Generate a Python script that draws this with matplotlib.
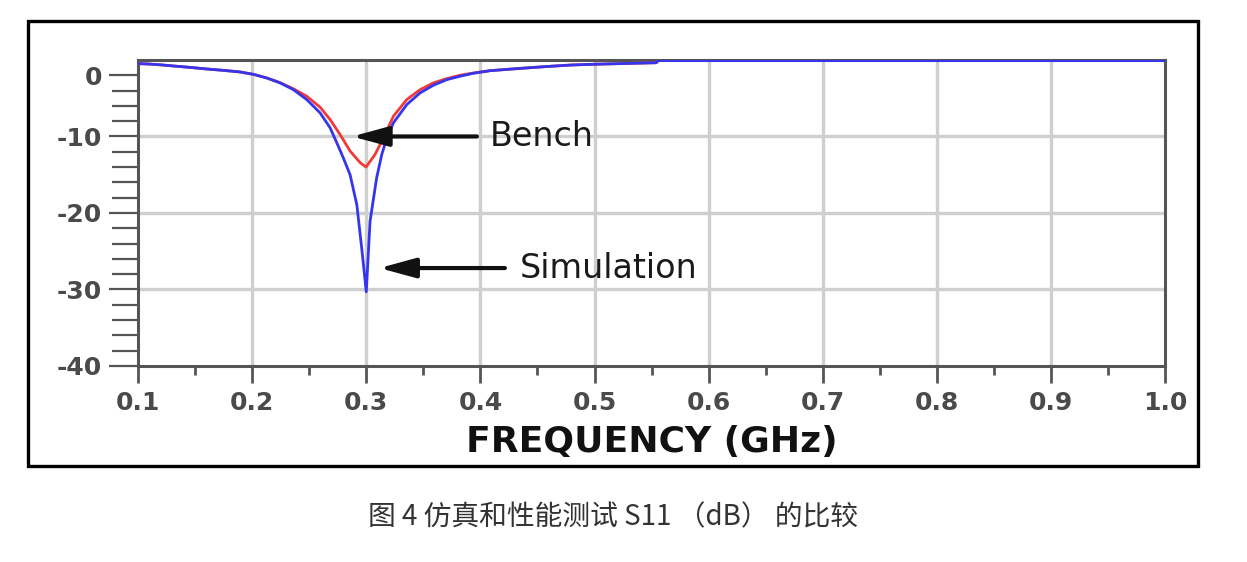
import numpy as np
import matplotlib
matplotlib.use("Agg")
import matplotlib.pyplot as plt
from matplotlib.patches import Rectangle

# ---------------- data ----------------
freq_sim = [0.100, 0.108, 0.120, 0.132, 0.146, 0.160, 0.175, 0.1894, 0.2011, 0.2128,
            0.2245, 0.2361, 0.2478, 0.2595, 0.2683, 0.2741, 0.2799, 0.2858, 0.2917, 0.296,
            0.300, 0.3033, 0.3091, 0.3136, 0.318, 0.3238, 0.3355, 0.3472, 0.3588, 0.3705,
            0.3822, 0.3939, 0.4085, 0.436, 0.460, 0.480, 0.500, 0.554, 0.556, 1.000]
s11_sim = [1.9, 1.85, 1.7, 1.5, 1.28, 1.03, 0.8, 0.54, 0.15, -0.44,
           -1.25, -2.35, -3.97, -6.14, -8.58, -10.8, -12.8, -15.0, -18.9, -24.6,
           -30.3, -21.1, -15.4, -12.35, -10.2, -7.77, -4.79, -2.88, -1.63, -0.72,
           -0.16, 0.33, 0.75, 1.14, 1.45, 1.68, 1.8, 2.05, 2.4, 2.4]

freq_bench = [0.100, 0.108, 0.120, 0.132, 0.146, 0.160, 0.175, 0.1894, 0.2011, 0.2128,
              0.2245, 0.2361, 0.2478, 0.2595, 0.2683, 0.2770, 0.2858, 0.2945, 0.2998, 0.3077,
              0.315, 0.3238, 0.3355, 0.3472, 0.3588, 0.3705, 0.3822, 0.3939, 0.4085, 0.436,
              0.460, 0.480, 0.500, 0.554, 0.556, 1.000]
s11_bench = [1.9, 1.85, 1.7, 1.5, 1.28, 1.03, 0.8, 0.54, 0.15, -0.44,
             -1.2, -2.2, -3.42, -5.21, -7.23, -9.67, -11.9, -13.4, -14.0, -12.35,
             -10.2, -6.68, -3.97, -2.35, -1.25, -0.55, 0.0, 0.37, 0.75, 1.14,
             1.45, 1.68, 1.8, 2.05, 2.4, 2.4]

x_ticks = [0.1, 0.2, 0.3, 0.4, 0.5, 0.6, 0.7, 0.8, 0.9, 1.0]
x_tick_labels = ["0.1", "0.2", "0.3", "0.4", "0.5", "0.6", "0.7", "0.8", "0.9", "1.0"]
y_ticks = [0, -10, -20, -30, -40]
y_tick_labels = ["0", "-10", "-20", "-30", "-40"]
y_minor = [-2.5, -5, -7.5] + [v for v in range(-12, -40, -2) if v % 10 != 0]
x_minor = [0.15, 0.25, 0.35, 0.45, 0.55, 0.65, 0.75, 0.85, 0.95]

xlabel = "FREQUENCY (GHz)"
caption = "图 4 仿真和性能测试 S11 （dB） 的比较"

# --------------- figure ---------------
fig = plt.figure(figsize=(12.47, 5.62), dpi=100)
fig.patch.set_facecolor("white")
ax = fig.add_axes([0.1107, 0.3488, 0.8236, 0.5445])

# piecewise axis: the 0..-10 band is drawn compressed, as in the source plot
def fwd(v):
    v = np.asarray(v, dtype=float)
    return np.where(v <= -10, v, -10 + (v + 10) * 0.8)

def inv(u):
    u = np.asarray(u, dtype=float)
    return np.where(u <= -10, u, -10 + (u + 10) / 0.8)

ax.set_yscale("function", functions=(fwd, inv))
ax.set_xlim(0.1, 1.0)
ax.set_ylim(-40, 2.5)

grid_c = "#cfcfcf"
for xv in x_ticks[1:-1]:
    ax.axvline(xv, color=grid_c, lw=2.4, zorder=0)
for yv in [-10, -20, -30]:
    ax.axhline(yv, color=grid_c, lw=2.4, zorder=0)

ax.plot(freq_bench, s11_bench, color="#f03a3a", lw=2.0, zorder=3)
ax.plot(freq_sim, s11_sim, color="#3535ee", lw=2.0, zorder=4)

# spines & ticks
for s in ax.spines.values():
    s.set_color("#555555")
    s.set_linewidth(2.2)

ax.set_xticks(x_ticks)
ax.set_xticklabels(x_tick_labels)
ax.set_xticks(x_minor, minor=True)
ax.set_yticks(y_ticks)
ax.set_yticklabels(y_tick_labels)
ax.set_yticks(y_minor, minor=True)

for lab in ax.get_xticklabels() + ax.get_yticklabels():
    lab.set_fontfamily("DejaVu Sans")
    lab.set_fontweight("bold")
    lab.set_fontsize(18)
    lab.set_color("#4a4a4a")

ax.tick_params(axis="x", which="major", direction="out", length=12, width=2.0,
               color="#555555", pad=6)
ax.tick_params(axis="x", which="minor", direction="out", length=6.5, width=2.0,
               color="#555555")
ax.tick_params(axis="y", which="major", direction="out", length=21, width=1.6,
               color="#555555", pad=5)
ax.tick_params(axis="y", which="minor", direction="out", length=18.5, width=1.6,
               color="#555555")

# annotations
arrow_kw = dict(arrowstyle="-|>,head_length=1.1,head_width=0.3", lw=3.0,
                color="#111111", shrinkA=0, shrinkB=0, mutation_scale=20)
ax.annotate("", xy=(0.2876, -10), xytext=(0.397, -10), arrowprops=arrow_kw, zorder=5)
ax.annotate("", xy=(0.3115, -27.2), xytext=(0.4215, -27.2), arrowprops=arrow_kw, zorder=5)
ax.text(0.4085, -10, "Bench", fontsize=24, family="DejaVu Sans", color="#1a1a1a",
        ha="left", va="center", zorder=6)
ax.text(0.4348, -27.2, "Simulation", fontsize=24, family="DejaVu Sans", color="#1a1a1a",
        ha="left", va="center", zorder=6)

# x label
fig.text(0.5225, 0.2135, xlabel, fontsize=26, family="DejaVu Sans", weight="bold",
         color="#111111", ha="center", va="center")

# outer frame
fig.patches.append(Rectangle((28 / 1247, 1 - 466 / 562), (1198 - 28) / 1247,
                             (466 - 21) / 562, transform=fig.transFigure,
                             fill=False, edgecolor="black", lw=2.4))

# caption
fig.text(0.4916, 0.080, caption, fontsize=20,
         family=["Noto Sans CJK SC", "DejaVu Sans"], color="#333333",
         ha="center", va="center")

fig.savefig("out.png", dpi=100, facecolor="white")
